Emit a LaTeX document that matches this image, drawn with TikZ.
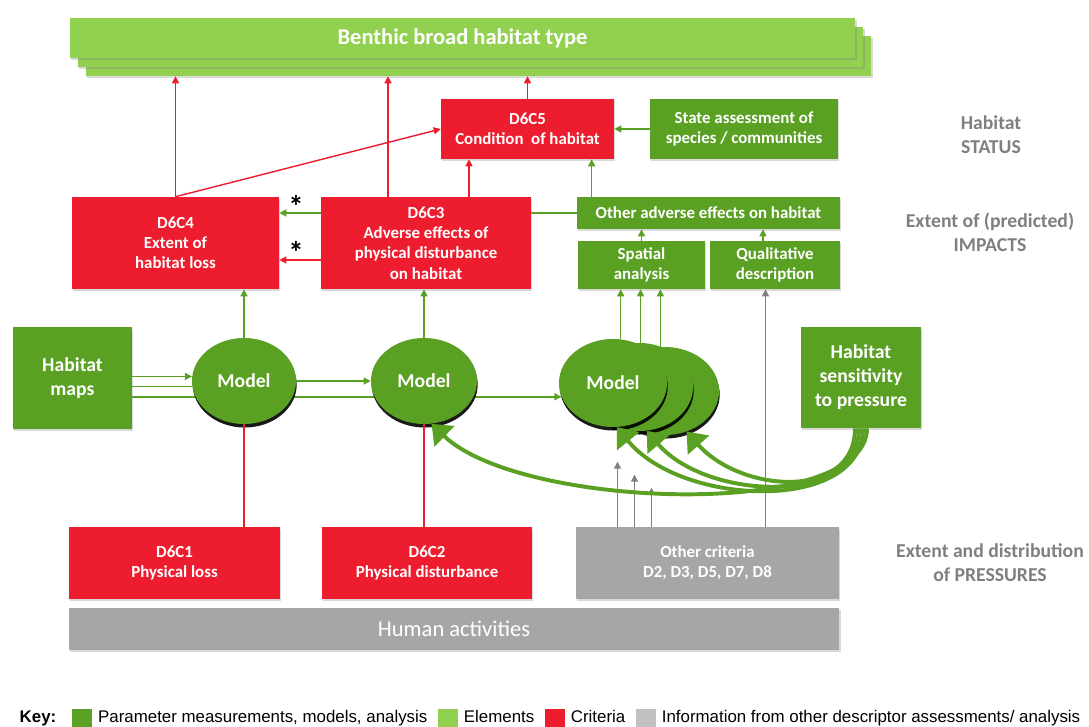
\documentclass[tikz,border=0pt]{standalone}
\usepackage{fontspec}
\setmainfont{Carlito}
\newfontfamily\keyfont{Liberation Sans}
\usepackage{tikz}
\usetikzlibrary{shapes}
\usetikzlibrary{shadows, calc, backgrounds, positioning, arrows.meta}

\definecolor{pgreen}{RGB}{90,160,35}
\definecolor{egreen}{RGB}{146,208,80}
\definecolor{cred}{RGB}{237,28,46}
\definecolor{igrey}{RGB}{166,166,166}
\definecolor{agrey}{RGB}{128,128,128}
\definecolor{lgrey}{RGB}{127,127,127}

\begin{document}
\begin{tikzpicture}[x=0.025cm, y=-0.025cm,
    box/.style={inner sep=2pt, align=center, text=white, font=\bfseries\fontsize{12}{14.4}\selectfont,
      drop shadow={shadow xshift=1pt, shadow yshift=-1.5pt, opacity=0.3}},
    crit/.style={box, fill=cred},
    param/.style={box, fill=pgreen},
    info/.style={box, fill=igrey},
    elem/.style={box, fill=egreen, minimum width=19.625cm, minimum height=1cm, font=\bfseries\fontsize{16}{19}\selectfont},
    model/.style={ellipse, fill=pgreen, text=white, inner sep=0pt, minimum width=2.7cm, minimum height=2.2cm,
      font=\bfseries\fontsize{14}{17}\selectfont,
      drop shadow={shadow xshift=0.5pt, shadow yshift=-2.5pt, opacity=0.9, fill=black}},
    side/.style={text=lgrey, align=center, font=\bfseries\fontsize{14}{17}\selectfont},
    garrow/.style={pgreen, line width=1pt, -{Triangle[length=5pt, width=5pt]}},
    gline/.style={pgreen, line width=1pt},
    rarrow/.style={cred, line width=1pt, -{Triangle[length=5pt, width=5pt]}},
    rline/.style={cred, line width=1pt},
    grarrow/.style={agrey, line width=1pt, -{Triangle[length=5pt, width=5pt]}},
    bigarrow/.style={pgreen, line width=2.8pt, -{Triangle[length=0.45cm, width=0.7cm]}},
    keybox/.style={minimum width=0.5cm, minimum height=0.475cm, inner sep=0pt},
    keytext/.style={anchor=west, inner sep=1pt, text height=1.7ex, text depth=0.45ex, font=\keyfont\fontsize{12}{14}\selectfont}
  ]
  \clip (0, 0) rectangle (1089, 727);

  % elements
  \node[elem] at (478.5, 56) (bb3) {};
  \node[elem] at (470.5, 47) (bb2) {};
  \node[elem] at (462.5, 38) (bb1) {Benthic broad habitat type};

  % status
  \node[crit, minimum width=4.325cm, minimum height=1.5cm] at (527.5, 129) (d6c5) {D6C5\\Condition\ \ of habitat};
  \node[param, minimum width=4.7cm, minimum height=1.5cm] at (744, 129) (state) {State assessment of\\species / communities};

  % impacts
  \node[crit, minimum width=5.175cm, minimum height=2.3cm] at (175.5, 243) (d6c4) {D6C4\\Extent of\\habitat loss};
  \node[crit, minimum width=5.25cm, minimum height=2.3cm] at (426, 243) (d6c3) {D6C3\\Adverse effects of\\physical disturbance\\on habitat};
  \node[param, minimum width=6.575cm, minimum height=0.8cm] at (708.5, 213) (oth) {Other adverse effects on habitat};
  \node[param, minimum width=3.175cm, minimum height=1.2cm] at (641.5, 265) (spat) {Spatial\\analysis};
  \node[param, minimum width=3.25cm, minimum height=1.2cm] at (775, 265) (qual) {Qualitative\\description};
  \node[font=\bfseries\fontsize{22}{24}\selectfont, inner sep=0pt] at (296, 206) (ast1) {*};
  \node[font=\bfseries\fontsize{22}{24}\selectfont, inner sep=0pt] at (296, 252) (ast2) {*};

  % models
  \node[param, minimum width=2.975cm, minimum height=2.55cm, font=\bfseries\fontsize{14}{17}\selectfont] at (72.5, 378) (maps) {Habitat\\maps};
  \node[model, minimum width=2.6cm, minimum height=2.15cm] at (244, 381) (m1) {Model};
  \node[model, minimum width=2.65cm, minimum height=2.15cm] at (424, 381) (m2) {Model};
  \node[model] at (665, 391) (m3c) {};
  \node[model] at (639, 387) (m3b) {};
  \node[model] at (613, 383) (m3a) {Model};
  \node[param, minimum width=3cm, minimum height=2.525cm, font=\bfseries\fontsize{14}{17}\selectfont] at (861, 377.5) (sens) {Habitat\\sensitivity\\to pressure};

  % pressures
  \node[crit, minimum width=5.275cm, minimum height=1.8cm] at (174.5, 563) (d6c1) {D6C1\\Physical loss};
  \node[crit, minimum width=5.25cm, minimum height=1.8cm] at (427, 563) (d6c2) {D6C2\\Physical disturbance};
  \node[info, minimum width=6.575cm, minimum height=1.8cm] at (707.5, 563) (oc) {Other criteria\\D2, D3, D5, D7, D8};
  \node[info, minimum width=19.25cm, minimum height=1.05cm, font=\fontsize{16}{19}\selectfont] at (454, 629) (hum) {Human activities};

  \node[side] at (991, 135) (lstat) {Habitat\\STATUS};
  \node[side] at (990, 232) (limp) {Extent of (predicted)\\IMPACTS};
  \node[side] at (990, 563) (lpres) {Extent and distribution\\of PRESSURES};

  \begin{scope}[on background layer]
    \draw[garrow] (oth.west) -- (oth.west -| d6c4.east);
    \draw[garrow] (maps.east |- m3a.195) -- (m3a.195);
  \end{scope}

  \draw[rarrow] (d6c4.north) -- (d6c4.north |- bb3.south);
  \draw[rarrow] ($(d6c3.north)+(-38,0)$) coordinate (c3up) -- (c3up |- bb3.south);
  \draw[rarrow] (d6c5.north) -- (d6c5.north |- bb3.south);
  \draw[rarrow] ($(d6c3.north)+(43,0)$) coordinate (c3c5) -- (c3c5 |- d6c5.south);
  \draw[rarrow] (d6c4.north) -- (d6c5.west);
  \draw[rarrow] ($(d6c3.west)+(0,17)$) coordinate (c3c4) -- (c3c4 -| d6c4.east);
  \draw[rline] (m1.south) -- (m1.south |- d6c1.north);
  \draw[rline] (m2.south) -- (m2.south |- d6c2.north);

  \draw[garrow] (state.west) -- (d6c5.east);
  \draw[garrow] ($(oth.north west)+(15,0)$) coordinate (o5) -- (o5 |- d6c5.south);
  \draw[garrow] (spat.north) -- (spat.north |- oth.south);
  \draw[garrow] ($(qual.north)+(-12,0)$) coordinate (q5) -- (q5 |- oth.south);
  \draw[garrow] (m1.north) -- (m1.north |- d6c4.south);
  \draw[garrow] (m2.north) -- (m2.north |- d6c3.south);
  \draw[garrow] (m3a.80) -- (m3a.80 |- spat.south);
  \draw[garrow] (m3b.88) -- (m3b.88 |- spat.south);
  \draw[garrow] (m3c.96) -- (m3c.96 |- spat.south);
  \draw[garrow] (maps.east |- m1.175) -- (m1.175);
  \draw[gline] (maps.east |- m1.186) -- (m1.186);
  \draw[garrow] (m1.east) -- (m2.west);

  \draw[grarrow] ($(oc.north)+(-90,0)$) -- ++(0,-65);
  \draw[grarrow] ($(oc.north)+(-73,0)$) -- ++(0,-52);
  \draw[grarrow] ($(oc.north)+(-56,0)$) -- ++(0,-39);
  \draw[grarrow] ($(oc.north)+(58,0)$) coordinate (g4) -- (g4 |- qual.south);

  \draw[bigarrow] ($(sens.south)+(6,0)$) .. controls +(0,92) and +(89,86) .. (m2.-80);
  \draw[bigarrow] ($(sens.south)+(2,0)$) .. controls +(0,85) and +(65,80) .. (m3a.-85);
  \draw[bigarrow] ($(sens.south)+(-2,0)$) .. controls +(0,78) and +(60,70) .. (m3b.-80);
  \draw[bigarrow] ($(sens.south)+(-6,0)$) .. controls +(0,72) and +(55,62) .. (m3c.-62);

  % key
  \node[keytext, font=\keyfont\bfseries\fontsize{12}{14}\selectfont] at (18, 718) (key) {Key:};
  \node[keybox, fill=pgreen] at (82, 718) (k1) {};
  \node[keytext, right=3pt of k1] (kt1) {Parameter measurements, models, analysis};
  \node[keybox, fill=egreen, right=6pt of kt1] (k2) {};
  \node[keytext, right=3pt of k2] (kt2) {Elements};
  \node[keybox, fill=cred, right=6pt of kt2] (k3) {};
  \node[keytext, right=3pt of k3] (kt3) {Criteria};
  \node[keybox, fill=igrey!70, right=6pt of kt3] (k4) {};
  \node[keytext, right=3pt of k4] (kt4) {Information from other descriptor assessments/ analysis};
\end{tikzpicture}
\end{document}
